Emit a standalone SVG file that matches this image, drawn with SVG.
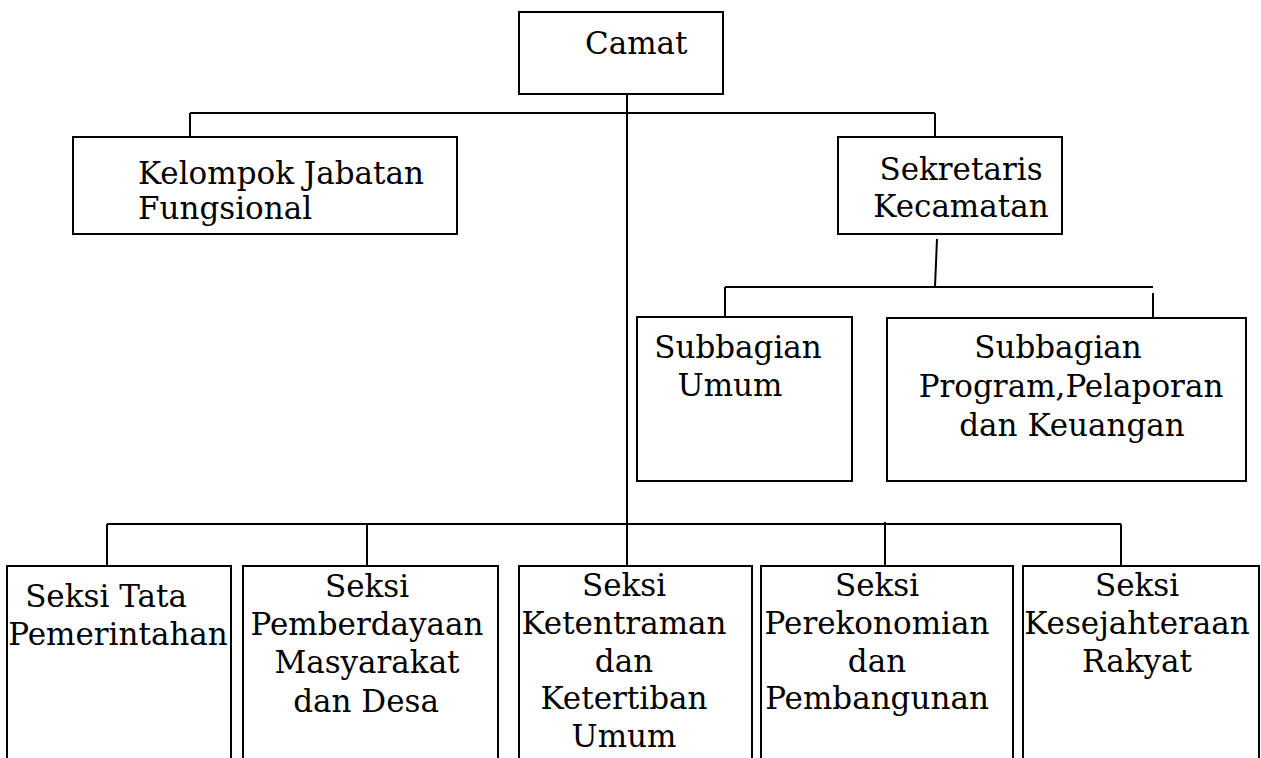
<svg xmlns="http://www.w3.org/2000/svg" width="1261" height="758" viewBox="0 0 1261 758">
<style>
.box{fill:#fff;stroke:#000;stroke-width:2}
.ln{fill:none;stroke:#000;stroke-width:2}
text{font-family:"DejaVu Serif","Liberation Serif",serif;font-size:31px;fill:#000}
.m{text-anchor:middle}
</style>
<rect width="1261" height="758" fill="#fff"/>
<g id="connectors">
<line class="ln" x1="627" y1="94" x2="627" y2="566"/>
<line class="ln" x1="190" y1="113" x2="935" y2="113"/>
<line class="ln" x1="190" y1="113" x2="190" y2="137"/>
<line class="ln" x1="935" y1="113" x2="935" y2="141"/>
<line class="ln" x1="937" y1="239" x2="935" y2="287"/>
<line class="ln" x1="725" y1="287" x2="1153" y2="287"/>
<line class="ln" x1="725" y1="287" x2="725" y2="317"/>
<line class="ln" x1="1153" y1="293" x2="1153" y2="318"/>
<line class="ln" x1="107" y1="524" x2="1121" y2="524"/>
<line class="ln" x1="107" y1="524" x2="107" y2="566"/>
<line class="ln" x1="367" y1="524" x2="367" y2="566"/>
<line class="ln" x1="885" y1="522" x2="885" y2="566"/>
<line class="ln" x1="1121" y1="524" x2="1121" y2="566"/>
</g>
<g id="camat">
<rect class="box" x="519" y="12" width="204" height="82"/>
<text x="585" y="54">Camat</text>
</g>
<g id="kelompok">
<rect class="box" x="73" y="137" width="384" height="97"/>
<text x="138" y="184">Kelompok Jabatan</text>
<text x="138" y="219">Fungsional</text>
</g>
<g id="sekretaris">
<rect class="box" x="838" y="137" width="224" height="97"/>
<text class="m" x="961" y="180">Sekretaris</text>
<text class="m" x="961" y="217">Kecamatan</text>
</g>
<g id="subbagian-umum">
<rect class="box" x="637" y="317" width="215" height="164"/>
<text class="m" x="738" y="358">Subbagian</text>
<text class="m" x="730" y="396">Umum</text>
</g>
<g id="subbagian-program">
<rect class="box" x="887" y="318" width="359" height="163"/>
<text class="m" x="1058" y="358">Subbagian</text>
<text class="m" x="1071" y="397">Program,Pelaporan</text>
<text class="m" x="1072" y="436">dan Keuangan</text>
</g>
<g id="seksi-tata">
<rect class="box" x="7" y="566" width="224" height="210"/>
<text class="m" x="106" y="607">Seksi Tata</text>
<text class="m" x="118" y="645">Pemerintahan</text>
</g>
<g id="seksi-pemberdayaan">
<rect class="box" x="243" y="566" width="255" height="210"/>
<text class="m" x="367" y="597">Seksi</text>
<text class="m" x="367" y="635">Pemberdayaan</text>
<text class="m" x="367" y="673">Masyarakat</text>
<text class="m" x="366" y="712">dan Desa</text>
</g>
<g id="seksi-ketentraman">
<rect class="box" x="519" y="566" width="233" height="210"/>
<text class="m" x="624" y="596">Seksi</text>
<text class="m" x="624" y="634">Ketentraman</text>
<text class="m" x="624" y="672">dan</text>
<text class="m" x="624" y="709">Ketertiban</text>
<text class="m" x="624" y="747">Umum</text>
</g>
<g id="seksi-perekonomian">
<rect class="box" x="761" y="566" width="252" height="210"/>
<text class="m" x="877" y="596">Seksi</text>
<text class="m" x="877" y="634">Perekonomian</text>
<text class="m" x="877" y="672">dan</text>
<text class="m" x="877" y="709">Pembangunan</text>
</g>
<g id="seksi-kesejahteraan">
<rect class="box" x="1023" y="566" width="236" height="210"/>
<text class="m" x="1137" y="596">Seksi</text>
<text class="m" x="1137" y="634">Kesejahteraan</text>
<text class="m" x="1137" y="672">Rakyat</text>
</g>
</svg>
